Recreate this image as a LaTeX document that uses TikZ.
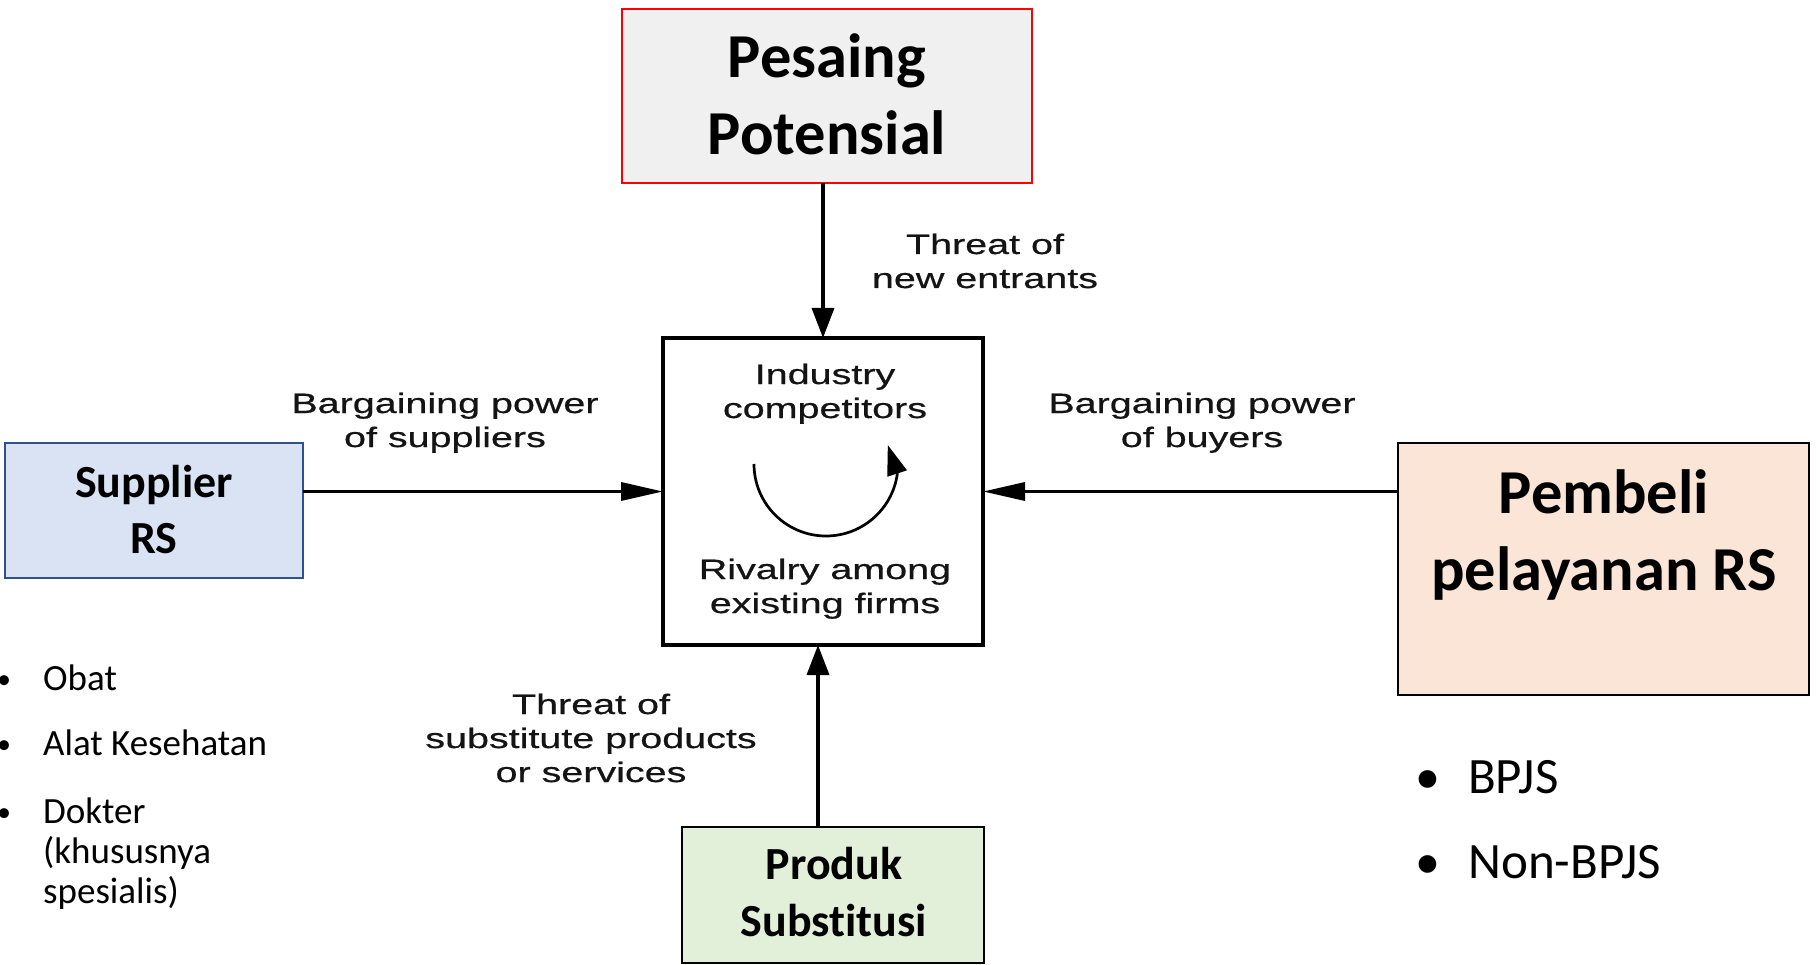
\documentclass[tikz,border=0pt]{standalone}
\usepackage{fontspec}
\setmainfont{Carlito}[Ligatures=NoCommon]
\newfontfamily\porterfont[FakeStretch=1.41,FakeBold=0.6]{Liberation Sans}
\usetikzlibrary{arrows.meta}
\definecolor{supfill}{HTML}{DAE3F3}
\definecolor{supdraw}{HTML}{2F528F}
\definecolor{pemfill}{HTML}{FBE5D6}
\definecolor{prodfill}{HTML}{E2F0D9}
\definecolor{pesfill}{HTML}{F0F0F0}
\definecolor{pesdraw}{HTML}{FF0000}
\definecolor{lbl}{HTML}{141414}
\begin{document}
\begin{tikzpicture}[x=1pt,y=-1pt,
  box/.style={draw, line width=2pt, inner sep=0pt, outer sep=0pt},
  bigtitle/.style={font=\bfseries\fontsize{62.5}{77}\selectfont, align=center, anchor=base, inner sep=0pt},
  midtitle/.style={font=\bfseries\fontsize{46}{56}\selectfont, align=center, anchor=base, inner sep=0pt},
  porter/.style={font=\porterfont\fontsize{28}{34}\selectfont, text=lbl, align=center, anchor=base, inner sep=0pt},
  leftitem/.style={font=\fontsize{37}{40}\selectfont, align=left, anchor=base west, inner sep=0pt},
  rightitem/.style={font=\fontsize{51}{60}\selectfont, anchor=base west, inner sep=0pt},
  leftbullet/.style={font=\fontsize{28}{40}\selectfont, anchor=base, inner sep=0pt},
  rightbullet/.style={font=\fontsize{50}{60}\selectfont, anchor=base, inner sep=0pt},
  varrow/.style={line width=3.5pt, -{Triangle[length=30pt,width=22pt]}},
  harrow/.style={line width=3.5pt, -{Triangle[length=42pt,width=18pt]}},
]
\useasboundingbox[fill=white] (0,0) rectangle (1818,965);

% boxes
\node[box, draw=pesdraw, fill=pesfill, minimum width=410pt, minimum height=174pt] (pes) at (827,96) {};
\node[box, draw=supdraw, fill=supfill, minimum width=298pt, minimum height=135pt] (sup) at (154,510.5) {};
\node[box, fill=pemfill, minimum width=411pt, minimum height=252pt] (pem) at (1603.5,569) {};
\node[box, fill=prodfill, minimum width=302pt, minimum height=136pt] (prod) at (833,895) {};
\node[draw, line width=4pt, inner sep=0pt, outer sep=0pt, minimum width=320pt, minimum height=307pt] (ind) at (823,491.5) {};

% box texts (anchor = baseline of last line)
\node[bigtitle] (pestxt) at (827,155) {Pesaing\\Potensial};
\node[midtitle] (suptxt) at (154,553) {Supplier\\RS};
\node[bigtitle] (pemtxt) at (1604,590) {Pembeli\\pelayanan RS};
\node[midtitle, font=\bfseries\fontsize{46}{57}\selectfont] (prodtxt) at (834,936) {Produk\\Substitusi};

% Porter labels
\node[porter] (indtxt) at (825,418) {Industry\\competitors};
\node[porter] (rivtxt) at (825,613) {Rivalry among\\existing firms};
\node[porter] (newtxt) at (985,288) {Threat of\\new entrants};
\node[porter] (suplbl) at (445,447) {Bargaining power\\of suppliers};
\node[porter] (buylbl) at (1202,447) {Bargaining power\\of buyers};
\node[porter] (sublbl) at (591,782) {Threat of\\substitute products\\or services};

% rivalry circular arrow
\draw[line width=2.7pt, -{Triangle[length=30pt,width=20pt]}]
  ([shift={(-69,-27.5)}]ind.center) arc[start angle=180, end angle=8, radius=72] -- ++(-9.5,-29);

% connectors
\coordinate (botx) at ([xshift=-5pt]ind.south);
\draw[varrow] (ind.north |- pes.south) -- (ind.north);
\draw[varrow] (botx |- prod.north) -- (botx);
\draw[harrow] (sup.east |- ind.west) -- (ind.west);
\draw[harrow] (pem.west |- ind.east) -- (ind.east);

% left bullet list
\node[leftbullet] (lb1) at (4,688) {•};
\node[leftbullet] (lb2) at (4,753) {•};
\node[leftbullet] (lb3) at (4,821) {•};
\node[leftitem] (li1) at (43,690) {Obat};
\node[leftitem] (li2) at (43,755) {Alat Kesehatan};
\node[leftitem] (li3) at (43,903) {Dokter\\(khususnya\\spesialis)};

% right bullet list
\node[rightbullet] (rb1) at (1428,793) {•};
\node[rightbullet] (rb2) at (1428,878) {•};
\node[rightitem] (ri1) at (1468,793) {BPJS};
\node[rightitem] (ri2) at (1468,878) {Non-BPJS};
\end{tikzpicture}
\end{document}
